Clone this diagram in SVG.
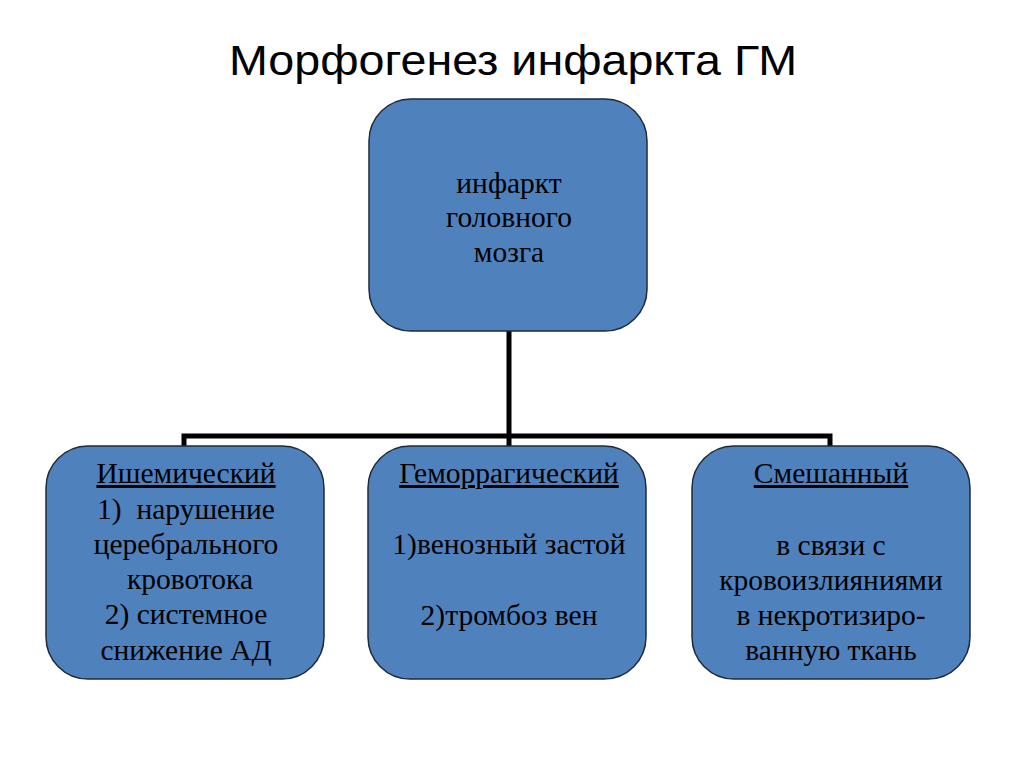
<svg xmlns="http://www.w3.org/2000/svg" width="1024" height="767" viewBox="0 0 1024 767">
<style>
.box{fill:#4f81bd;stroke:#1f2a3a;stroke-width:1.5}
.t{font-family:"Liberation Serif","Times New Roman",serif;font-size:29.5px;fill:#000;text-anchor:middle}
.u{text-decoration:underline}
.title{font-family:"Liberation Sans",Arial,sans-serif;font-size:42px;fill:#000;text-anchor:middle}
.c{fill:none;stroke:#000;stroke-width:5}
</style>
<rect width="1024" height="767" fill="#fff"/>
<text class="title" x="513" y="75" textLength="568" lengthAdjust="spacingAndGlyphs">Морфогенез инфаркта ГМ</text>
<g id="connectors">
<path class="c" d="M509 331 V436 M184 449 V436 H830 V449 M509 436 V449"/>
</g>
<g id="root">
<rect class="box" x="369" y="99" width="278" height="232" rx="42"/>
<text class="t" x="509" y="193">инфаркт</text>
<text class="t" x="509" y="227">головного</text>
<text class="t" x="509" y="262">мозга</text>
</g>
<g id="ischemic">
<rect class="box" x="46" y="446" width="278" height="233" rx="42"/>
<text class="t u" x="186" y="483">Ишемический</text>
<text class="t" x="186" y="519" xml:space="preserve">1)  нарушение</text>
<text class="t" x="186" y="554">церебрального</text>
<text class="t" x="190" y="589">кровотока</text>
<text class="t" x="186" y="624">2) системное</text>
<text class="t" x="186" y="660">снижение АД</text>
</g>
<g id="hemorrhagic">
<rect class="box" x="368" y="446" width="278" height="233" rx="42"/>
<text class="t u" x="509" y="483">Геморрагический</text>
<text class="t" x="509" y="554">1)венозный застой</text>
<text class="t" x="509" y="625">2)тромбоз вен</text>
</g>
<g id="mixed">
<rect class="box" x="692" y="446" width="278" height="233" rx="42"/>
<text class="t u" x="831" y="483">Смешанный</text>
<text class="t" x="831" y="555">в связи с</text>
<text class="t" x="831" y="590">кровоизлияниями</text>
<text class="t" x="831" y="625">в некротизиро-</text>
<text class="t" x="831" y="660">ванную ткань</text>
</g>
</svg>
